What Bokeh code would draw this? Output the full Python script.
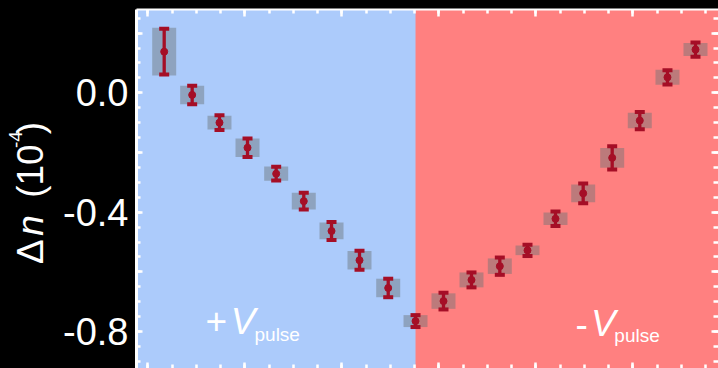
import numpy as np
from bokeh.plotting import figure
from bokeh.layouts import row
from bokeh.models import (LinearAxis, FixedTicker, PrintfTickFormatter,
                          BoxAnnotation, Label, ColumnDataSource)
from bokeh.embed import file_html
from bokeh.resources import INLINE

# ---------------- data ----------------
x_vals = [3.38, 9.15, 14.78, 20.56, 26.47, 32.16, 37.88, 43.65, 49.57, 55.20,
          60.97, 66.74, 72.58, 78.29, 84.06, 89.77, 95.75, 101.44, 107.15, 112.93]
dn = [0.138, -0.007, -0.100, -0.184, -0.271, -0.363, -0.463, -0.561, -0.654, -0.765,
      -0.698, -0.627, -0.581, -0.528, -0.422, -0.337, -0.218, -0.093, 0.052, 0.145]
stat_err = [0.077, 0.031, 0.025, 0.031, 0.023, 0.028, 0.030, 0.032, 0.031, 0.020,
            0.028, 0.025, 0.029, 0.019, 0.024, 0.033, 0.039, 0.029, 0.024, 0.024]
sys_err = [0.080, 0.031, 0.023, 0.031, 0.024, 0.028, 0.028, 0.031, 0.031, 0.020,
           0.026, 0.025, 0.026, 0.016, 0.021, 0.030, 0.033, 0.026, 0.025, 0.022]
switch_x = 55.2  # polarity switch (+V -> -V)

x_major = [0, 20, 40, 60, 80, 100]
x_minor = [5 * i for i in range(0, 24)]
y_labeled = [-0.8, -0.4, 0.0]
y_unlabeled_major = [-0.6, -0.2, 0.2]
y_minor = [round(-0.9 + 0.05 * i, 2) for i in range(0, 24)]

BLUE = "#ACCBFB"
RED = "#FF8080"
DARK = "#A50E26"
GRAY = "#6A7375"
FONT = "Liberation Sans"

src = ColumnDataSource(dict(
    x=x_vals, y=dn,
    lo=[v - e for v, e in zip(dn, stat_err)],
    hi=[v + e for v, e in zip(dn, stat_err)],
    bh=[2 * s for s in sys_err],
))

# ---------------- narrow strip carrying the y-axis title ----------------
t = figure(width=56, height=368, x_range=(0, 56), y_range=(368, 0),
           output_backend="svg", toolbar_location=None,
           x_axis_location=None, y_axis_location=None,
           min_border=0, background_fill_color="black", border_fill_color="black",
           outline_line_color=None, outline_line_alpha=0)
t.xgrid.visible = False
t.ygrid.visible = False
for g in t.grid:
    g.grid_line_color = None


def ylab(text, x, y, size, style="normal"):
    t.add_layout(Label(x=x, y=y, text=text, text_color="white", text_font=FONT,
                       text_font_size=size, text_font_style=style, angle=np.pi / 2,
                       text_align="left", text_baseline="alphabetic"))


ylab("\u0394", 30, 261, "37px")
ylab("n", 30, 232, "37px", "italic")
ylab("(10", 30, 193, "37px")
ylab("-4", 15, 142, "19px")
ylab(")", 30, 128, "37px")

# ---------------- main plot ----------------
p = figure(width=662, height=368, x_range=(-2.33, 117.67), y_range=(-0.9239, 0.2792),
           output_backend="svg", toolbar_location=None,
           x_axis_location=None, y_axis_location=None,
           min_border_left=80, min_border_top=9, min_border_right=0, min_border_bottom=0,
           background_fill_color=RED, border_fill_color="black",
           outline_line_color=None)
p.xgrid.visible = False
p.ygrid.visible = False

p.add_layout(BoxAnnotation(right=switch_x, fill_color=BLUE, fill_alpha=1.0,
                           line_color=None, level="underlay"))


def tick_axis(major, minor, tin, tmin, line_width=None):
    """Axis drawing inward ticks only (no labels)."""
    ax = LinearAxis(ticker=FixedTicker(ticks=major, minor_ticks=minor))
    ax.major_tick_in = tin
    ax.major_tick_out = 0
    ax.minor_tick_in = tmin
    ax.minor_tick_out = 0
    ax.major_tick_line_color = "white"
    ax.minor_tick_line_color = "white"
    ax.major_tick_line_width = 2.5
    ax.minor_tick_line_width = 2.5
    ax.major_label_standoff = 0
    if line_width:
        ax.axis_line_color = "white"
        ax.axis_line_width = line_width
    else:
        ax.axis_line_color = None
    return ax


# left: long unlabeled ticks first (closest to frame), then the labeled axis
p.add_layout(tick_axis([], y_unlabeled_major, 0, 6), "left")
left = tick_axis(y_labeled, y_minor, 6, 4, line_width=3)
left.formatter = PrintfTickFormatter(format="%.1f")
left.major_label_text_color = "white"
left.major_label_text_font = FONT
left.major_label_text_font_size = "38px"
left.major_label_standoff = 8
p.add_layout(left, "left")

# top
p.add_layout(tick_axis([], x_major, 0, 7), "above")
p.add_layout(tick_axis([], x_minor, 0, 4, line_width=2), "above")
# right
p.add_layout(tick_axis([], y_unlabeled_major + y_labeled, 0, 7), "right")
p.add_layout(tick_axis([], y_minor, 0, 5), "right")
# bottom
p.add_layout(tick_axis([], x_major, 0, 6), "below")
p.add_layout(tick_axis([], x_minor, 0, 4), "below")

# systematic boxes, error bars, points
p.rect(x="x", y="y", width=24, width_units="screen", height="bh", source=src,
       fill_color=GRAY, fill_alpha=0.45, line_color=None)
p.segment(x0="x", y0="lo", x1="x", y1="hi", source=src, line_color=DARK, line_width=3.3)
p.scatter(x="x", y="lo", marker="dash", size=10, line_width=4, line_color=DARK, source=src)
p.scatter(x="x", y="hi", marker="dash", size=10, line_width=4, line_color=DARK, source=src)
p.scatter(x="x", y="y", size=7, color=DARK, source=src)


# region labels
def lab(text, x, y, size, style="normal"):
    p.add_layout(Label(x=x, y=y, text=text, text_color="white", text_font=FONT,
                       text_font_size=size, text_font_style=style,
                       text_align="left", text_baseline="alphabetic"))


lab("+", 11.9, -0.765, "37px")
lab("V", 17.1, -0.765, "37px", "italic")
lab("pulse", 22.0, -0.8083, "19px")
lab("-", 88.2, -0.774, "37px")
lab("V", 91.4, -0.774, "37px", "italic")
lab("pulse", 96.2, -0.8133, "19px")

layout = row(t, p, spacing=0)
layout.styles = {"background-color": "#000000"}
html = file_html(layout, INLINE, title="delta n")
html = html.replace("</head>",
                    "<style>html,body{background-color:#000000 !important;}</style></head>", 1)
open("out.html", "w").write(html)
